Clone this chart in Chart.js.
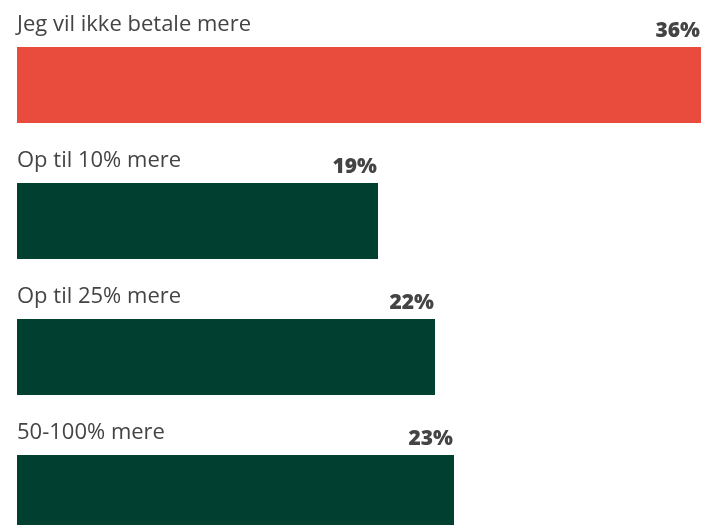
<!DOCTYPE html>
<html lang="da">
<head>
  <meta charset="UTF-8" />
  <title>Betalingsvilje</title>
  <style>
    html, body { margin: 0; padding: 0; background: #fff; overflow: hidden; }
    .wrap { width: 703px; height: 525px; overflow: hidden; position: relative; }
    .inner { width: 703px; height: 580px; }
  </style>
</head>
<body>
  <div class="wrap">
    <div class="inner">
      <canvas id="payChart"></canvas>
    </div>
  </div>

  <script src="https://cdn.jsdelivr.net/npm/chart.js"></script>
  <script>
    const categories = ['Jeg vil ikke betale mere', 'Op til 10% mere', 'Op til 25% mere', '50-100% mere'];
    const shares = [36, 19, 22, 23];
    const barColors = ['#e94c3d', '#013f30', '#013f30', '#013f30'];

    const textColor = '#444444';

    // labels above each bar: category on the left, value right-aligned at bar end
    const barLabels = {
      id: 'barLabels',
      afterDatasetsDraw(chart) {
        const ctx = chart.ctx;
        const meta = chart.getDatasetMeta(0);
        const left = chart.chartArea.left;
        ctx.save();
        ctx.fillStyle = textColor;
        ctx.textBaseline = 'middle';
        meta.data.forEach((bar, i) => {
          const top = bar.y - bar.height / 2;
          ctx.font = '400 22px "Open Sans", sans-serif';
          ctx.textAlign = 'left';
          ctx.fillText(categories[i], left, top - 22);
          ctx.font = '800 21px "Open Sans", sans-serif';
          ctx.textAlign = 'right';
          ctx.fillText(shares[i] + '%', bar.x - 1, top - 16);
        });
        ctx.restore();
      }
    };

    new Chart(document.getElementById('payChart'), {
      type: 'bar',
      data: {
        labels: categories,
        datasets: [{
          data: shares,
          backgroundColor: barColors,
          borderWidth: 0,
          barPercentage: 1,
          categoryPercentage: 76 / 136
        }]
      },
      options: {
        indexAxis: 'y',
        responsive: true,
        maintainAspectRatio: false,
        animation: false,
        layout: { padding: { left: 17, right: 2, top: 17, bottom: 19 } },
        scales: {
          x: { display: false, min: 0, max: 36 },
          y: { display: false }
        },
        plugins: {
          legend: { display: false },
          tooltip: { enabled: false }
        }
      },
      plugins: [barLabels]
    });
  </script>
</body>
</html>
